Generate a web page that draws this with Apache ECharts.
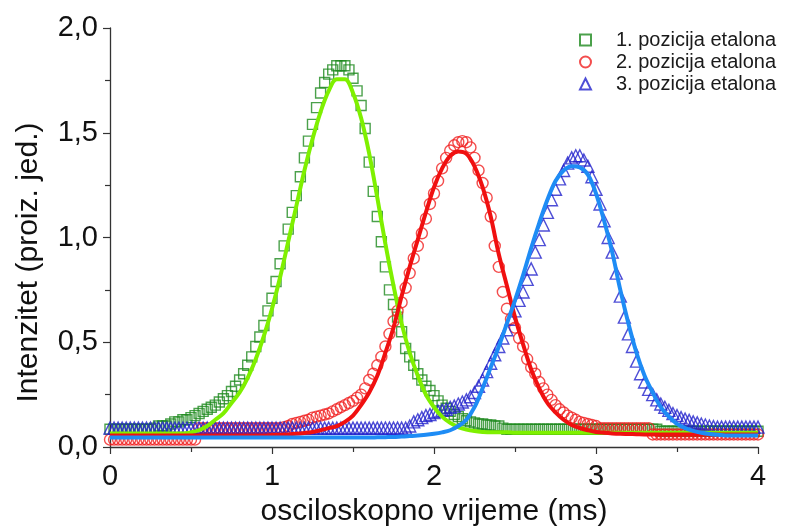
<!DOCTYPE html>
<html>
<head>
<meta charset="utf-8">
<script src="https://cdn.jsdelivr.net/npm/echarts@6/dist/echarts.min.js"></script>
<style>
html,body{margin:0;padding:0;background:#fff;}
#chart{width:795px;height:527px;}
</style>
</head>
<body>
<div id="chart"></div>
<script>
// Sampling step of the measured points (ms) and of the fitted curves (ms)
const DATA_STEP = 0.025;
const FIT_STEP = 0.05;

const seriesNames = ['1. pozicija etalona', '2. pozicija etalona', '3. pozicija etalona'];

// Measured data, t = 0 ... 4 ms every 0.025 ms
const greenData = [
0.085,0.085,0.085,0.085,0.085,0.085,0.085,0.085,0.085,0.085,
0.085,0.09,0.10,0.10,0.10,0.11,0.12,0.12,0.13,0.13,
0.14,0.15,0.16,0.17,0.18,0.19,0.20,0.215,0.23,0.245,
0.265,0.29,0.32,0.35,0.39,0.43,0.48,0.525,0.58,0.65,
0.71,0.79,0.875,0.96,1.04,1.12,1.20,1.29,1.38,1.46,
1.54,1.62,1.69,1.74,1.78,1.80,1.82,1.82,1.82,1.80,
1.76,1.70,1.63,1.52,1.36,1.22,1.10,0.98,0.86,0.75,
0.68,0.62,0.55,0.47,0.43,0.39,0.35,0.32,0.29,0.27,
0.245,0.22,0.20,0.185,0.17,0.155,0.145,0.135,0.125,0.12,
0.115,0.11,0.11,0.105,0.105,0.10,0.10,0.09,0.085,0.085,
0.085,0.085,0.085,0.085,0.085,0.085,0.085,0.085,0.085,0.085,
0.085,0.085,0.085,0.085,0.085,0.085,0.085,0.085,0.085,0.085,
0.085,0.085,0.085,0.085,0.085,0.085,0.085,0.085,0.085,0.085,
0.085,0.085,0.085,0.085,0.085,0.085,0.075,0.075,0.075,0.075,
0.075,0.075,0.075,0.075,0.075,0.075,0.075,0.075,0.075,0.075,
0.075,0.075,0.075,0.075,0.075,0.075,0.075,0.075,0.075,0.075,
0.075
];
const redData = [
0.035,0.035,0.035,0.035,0.035,0.035,0.035,0.035,0.035,0.035,
0.035,0.035,0.035,0.035,0.035,0.035,0.035,0.035,0.035,0.035,
0.035,0.035,0.09,0.09,0.09,0.09,0.09,0.09,0.09,0.09,
0.09,0.09,0.09,0.09,0.09,0.09,0.09,0.09,0.09,0.09,
0.09,0.09,0.09,0.095,0.10,0.11,0.115,0.12,0.125,0.13,
0.14,0.145,0.15,0.155,0.16,0.17,0.18,0.19,0.20,0.21,
0.22,0.235,0.25,0.28,0.32,0.35,0.39,0.43,0.48,0.54,
0.60,0.65,0.69,0.76,0.83,0.90,0.96,1.02,1.09,1.16,
1.21,1.27,1.33,1.38,1.415,1.44,1.455,1.46,1.455,1.43,
1.38,1.32,1.26,1.19,1.10,0.96,0.86,0.74,0.66,0.61,
0.57,0.52,0.48,0.42,0.38,0.35,0.31,0.28,0.25,0.225,
0.20,0.18,0.165,0.15,0.14,0.13,0.12,0.115,0.11,0.105,
0.10,0.09,0.09,0.09,0.09,0.09,0.09,0.09,0.09,0.09,
0.09,0.09,0.09,0.09,0.06,0.06,0.06,0.06,0.06,0.06,
0.06,0.06,0.06,0.06,0.06,0.06,0.06,0.06,0.06,0.06,
0.06,0.06,0.06,0.06,0.06,0.06,0.06,0.06,0.06,0.06,
0.06
];
const blueData = [
0.09,0.09,0.09,0.09,0.09,0.09,0.09,0.09,0.09,0.09,
0.09,0.09,0.09,0.09,0.09,0.09,0.09,0.09,0.09,0.09,
0.09,0.09,0.09,0.09,0.09,0.09,0.09,0.09,0.09,0.09,
0.09,0.09,0.09,0.09,0.09,0.09,0.09,0.09,0.09,0.09,
0.09,0.09,0.09,0.09,0.09,0.09,0.09,0.09,0.09,0.09,
0.09,0.09,0.09,0.09,0.09,0.09,0.09,0.09,0.09,0.09,
0.09,0.09,0.09,0.09,0.09,0.09,0.09,0.09,0.09,0.09,
0.09,0.09,0.09,0.09,0.10,0.12,0.13,0.14,0.15,0.155,
0.165,0.17,0.175,0.18,0.19,0.195,0.205,0.215,0.225,0.24,
0.26,0.29,0.32,0.36,0.40,0.44,0.48,0.52,0.56,0.61,
0.65,0.70,0.74,0.80,0.85,0.93,0.99,1.06,1.12,1.18,
1.23,1.28,1.32,1.355,1.38,1.39,1.39,1.37,1.34,1.29,
1.23,1.16,1.08,1.00,0.93,0.83,0.72,0.62,0.54,0.48,
0.41,0.35,0.31,0.275,0.25,0.225,0.205,0.19,0.175,0.16,
0.15,0.14,0.133,0.127,0.12,0.115,0.11,0.105,0.10,0.097,
0.095,0.095,0.095,0.095,0.095,0.095,0.095,0.095,0.095,0.095,
0.095
];

// Fitted curves, t = 0 ... 4 ms every 0.05 ms
const greenFit = [
0.065,0.065,0.065,0.065,0.065,0.065,0.065,0.065,0.065,0.065,
0.07,0.08,0.10,0.13,0.16,0.21,0.26,0.33,0.42,0.53,
0.66,0.81,0.98,1.15,1.32,1.47,1.60,1.70,1.755,1.755,
1.69,1.57,1.40,1.19,0.97,0.77,0.59,0.45,0.34,0.25,
0.19,0.145,0.115,0.095,0.083,0.076,0.072,0.07,0.07,0.07,
0.068,0.068,0.068,0.068,0.068,0.068,0.068,0.068,0.068,0.068,
0.068,0.068,0.068,0.068,0.068,0.068,0.068,0.068,0.068,0.068,
0.068,0.068,0.068,0.068,0.068,0.068,0.068,0.068,0.068,0.068,
0.068
];
const redFit = [
0.055,0.055,0.055,0.055,0.055,0.055,0.055,0.055,0.055,0.055,
0.055,0.055,0.055,0.055,0.055,0.055,0.055,0.055,0.055,0.055,
0.057,0.058,0.06,0.063,0.067,0.072,0.08,0.09,0.10,0.12,
0.15,0.20,0.26,0.34,0.45,0.57,0.72,0.86,0.99,1.12,
1.24,1.33,1.39,1.41,1.40,1.34,1.24,1.10,0.92,0.77,
0.62,0.49,0.37,0.28,0.21,0.165,0.13,0.105,0.09,0.08,
0.072,0.068,0.065,0.063,0.062,0.061,0.06,0.06,0.06,0.06,
0.06,0.06,0.06,0.06,0.06,0.06,0.06,0.06,0.06,0.06,
0.06
];
const blueFit = [
0.045,0.045,0.045,0.045,0.045,0.045,0.045,0.045,0.045,0.045,
0.045,0.045,0.045,0.045,0.045,0.045,0.045,0.045,0.045,0.045,
0.045,0.045,0.045,0.045,0.045,0.045,0.045,0.045,0.045,0.045,
0.045,0.045,0.045,0.046,0.047,0.048,0.05,0.052,0.055,0.058,
0.063,0.07,0.08,0.10,0.13,0.19,0.28,0.38,0.48,0.59,
0.70,0.82,0.95,1.07,1.18,1.27,1.32,1.34,1.335,1.30,
1.21,1.08,0.93,0.75,0.59,0.45,0.34,0.26,0.19,0.145,
0.11,0.09,0.077,0.068,0.062,0.058,0.055,0.055,0.055,0.055,
0.055
];

// Axis ticks
const xTicks = [0, 1, 2, 3, 4];
const yTicks = [0, 0.5, 1.0, 1.5, 2.0];

function pairs(arr, step) {
  return arr.map((v, i) => [Math.round(i * step * 1000) / 1000, v]);
}

const FONT = '"Liberation Sans", Arial, sans-serif';
const chart = echarts.init(document.getElementById('chart'), null, {renderer: 'canvas'});

const scatterBase = {type: 'scatter', z: 2};
const lineBase = {type: 'line', showSymbol: false, symbol: 'none', smooth: 0.35, z: 3, silent: true};

chart.setOption({
  animation: false,
  backgroundColor: '#ffffff',
  textStyle: {fontFamily: FONT},
  grid: {left: 110, right: 37, top: 28, bottom: 80, containLabel: false, outerBoundsMode: 'none'},
  legend: {
    data: seriesNames,
    orient: 'vertical',
    left: 574,
    top: 24,
    itemWidth: 11,
    itemHeight: 11,
    itemGap: 0,
    textStyle: {fontSize: 20, lineHeight: 22, color: '#1a1a1a', fontFamily: FONT, padding: [0, 0, 0, 20]},
    selectedMode: false
  },
  xAxis: {
    type: 'value',
    min: xTicks[0],
    max: xTicks[xTicks.length - 1],
    interval: 1,
    name: 'osciloskopno vrijeme (ms)',
    nameLocation: 'middle',
    nameGap: 50,
    nameTextStyle: {fontSize: 30, color: '#111', fontFamily: FONT},
    axisLine: {show: true, onZero: false, lineStyle: {color: '#333', width: 1.3}},
    axisTick: {show: true, inside: false, length: 7, lineStyle: {color: '#333', width: 1.2}},
    minorTick: {show: true, splitNumber: 2, length: 5, lineStyle: {color: '#333', width: 1.2}},
    axisLabel: {fontSize: 29, color: '#111', margin: 15, fontFamily: FONT,
      formatter: v => String(v).replace('.', ',')},
    splitLine: {show: false}
  },
  yAxis: {
    type: 'value',
    min: yTicks[0],
    max: yTicks[yTicks.length - 1],
    interval: 0.5,
    name: 'Intenzitet (proiz. jed.)',
    nameLocation: 'middle',
    nameGap: 66,
    nameTextStyle: {fontSize: 30, color: '#111', fontFamily: FONT, padding: [0, 50, 0, 0]},
    axisLine: {show: true, onZero: false, lineStyle: {color: '#333', width: 1.3}},
    axisTick: {show: true, inside: false, length: 7, lineStyle: {color: '#333', width: 1.2}},
    minorTick: {show: true, splitNumber: 2, length: 5, lineStyle: {color: '#333', width: 1.2}},
    axisLabel: {fontSize: 29, color: '#111', margin: 12, fontFamily: FONT,
      formatter: v => v.toFixed(1).replace('.', ',')},
    splitLine: {show: false}
  },
  series: [
    Object.assign({}, scatterBase, {
      name: seriesNames[0],
      symbol: 'rect',
      symbolSize: 10,
      itemStyle: {color: 'rgba(255,255,255,0)', borderColor: '#1e8a1e', borderWidth: 1.4},
      data: pairs(greenData, DATA_STEP)
    }),
    Object.assign({}, scatterBase, {
      name: seriesNames[1],
      symbol: 'circle',
      symbolSize: 11,
      itemStyle: {color: 'rgba(255,255,255,0)', borderColor: '#f02020', borderWidth: 1.4},
      data: pairs(redData, DATA_STEP)
    }),
    Object.assign({}, scatterBase, {
      name: seriesNames[2],
      symbol: 'triangle',
      symbolSize: 12,
      itemStyle: {color: 'rgba(255,255,255,0)', borderColor: '#2222cc', borderWidth: 1.4},
      data: pairs(blueData, DATA_STEP)
    }),
    Object.assign({}, lineBase, {
      name: 'fit1',
      lineStyle: {color: '#7ff000', width: 4},
      data: pairs(greenFit, FIT_STEP)
    }),
    Object.assign({}, lineBase, {
      name: 'fit2',
      lineStyle: {color: '#f01010', width: 4},
      data: pairs(redFit, FIT_STEP)
    }),
    Object.assign({}, lineBase, {
      name: 'fit3',
      lineStyle: {color: '#1e8cf5', width: 4},
      data: pairs(blueFit, FIT_STEP)
    })
  ]
});
</script>
</body>
</html>
